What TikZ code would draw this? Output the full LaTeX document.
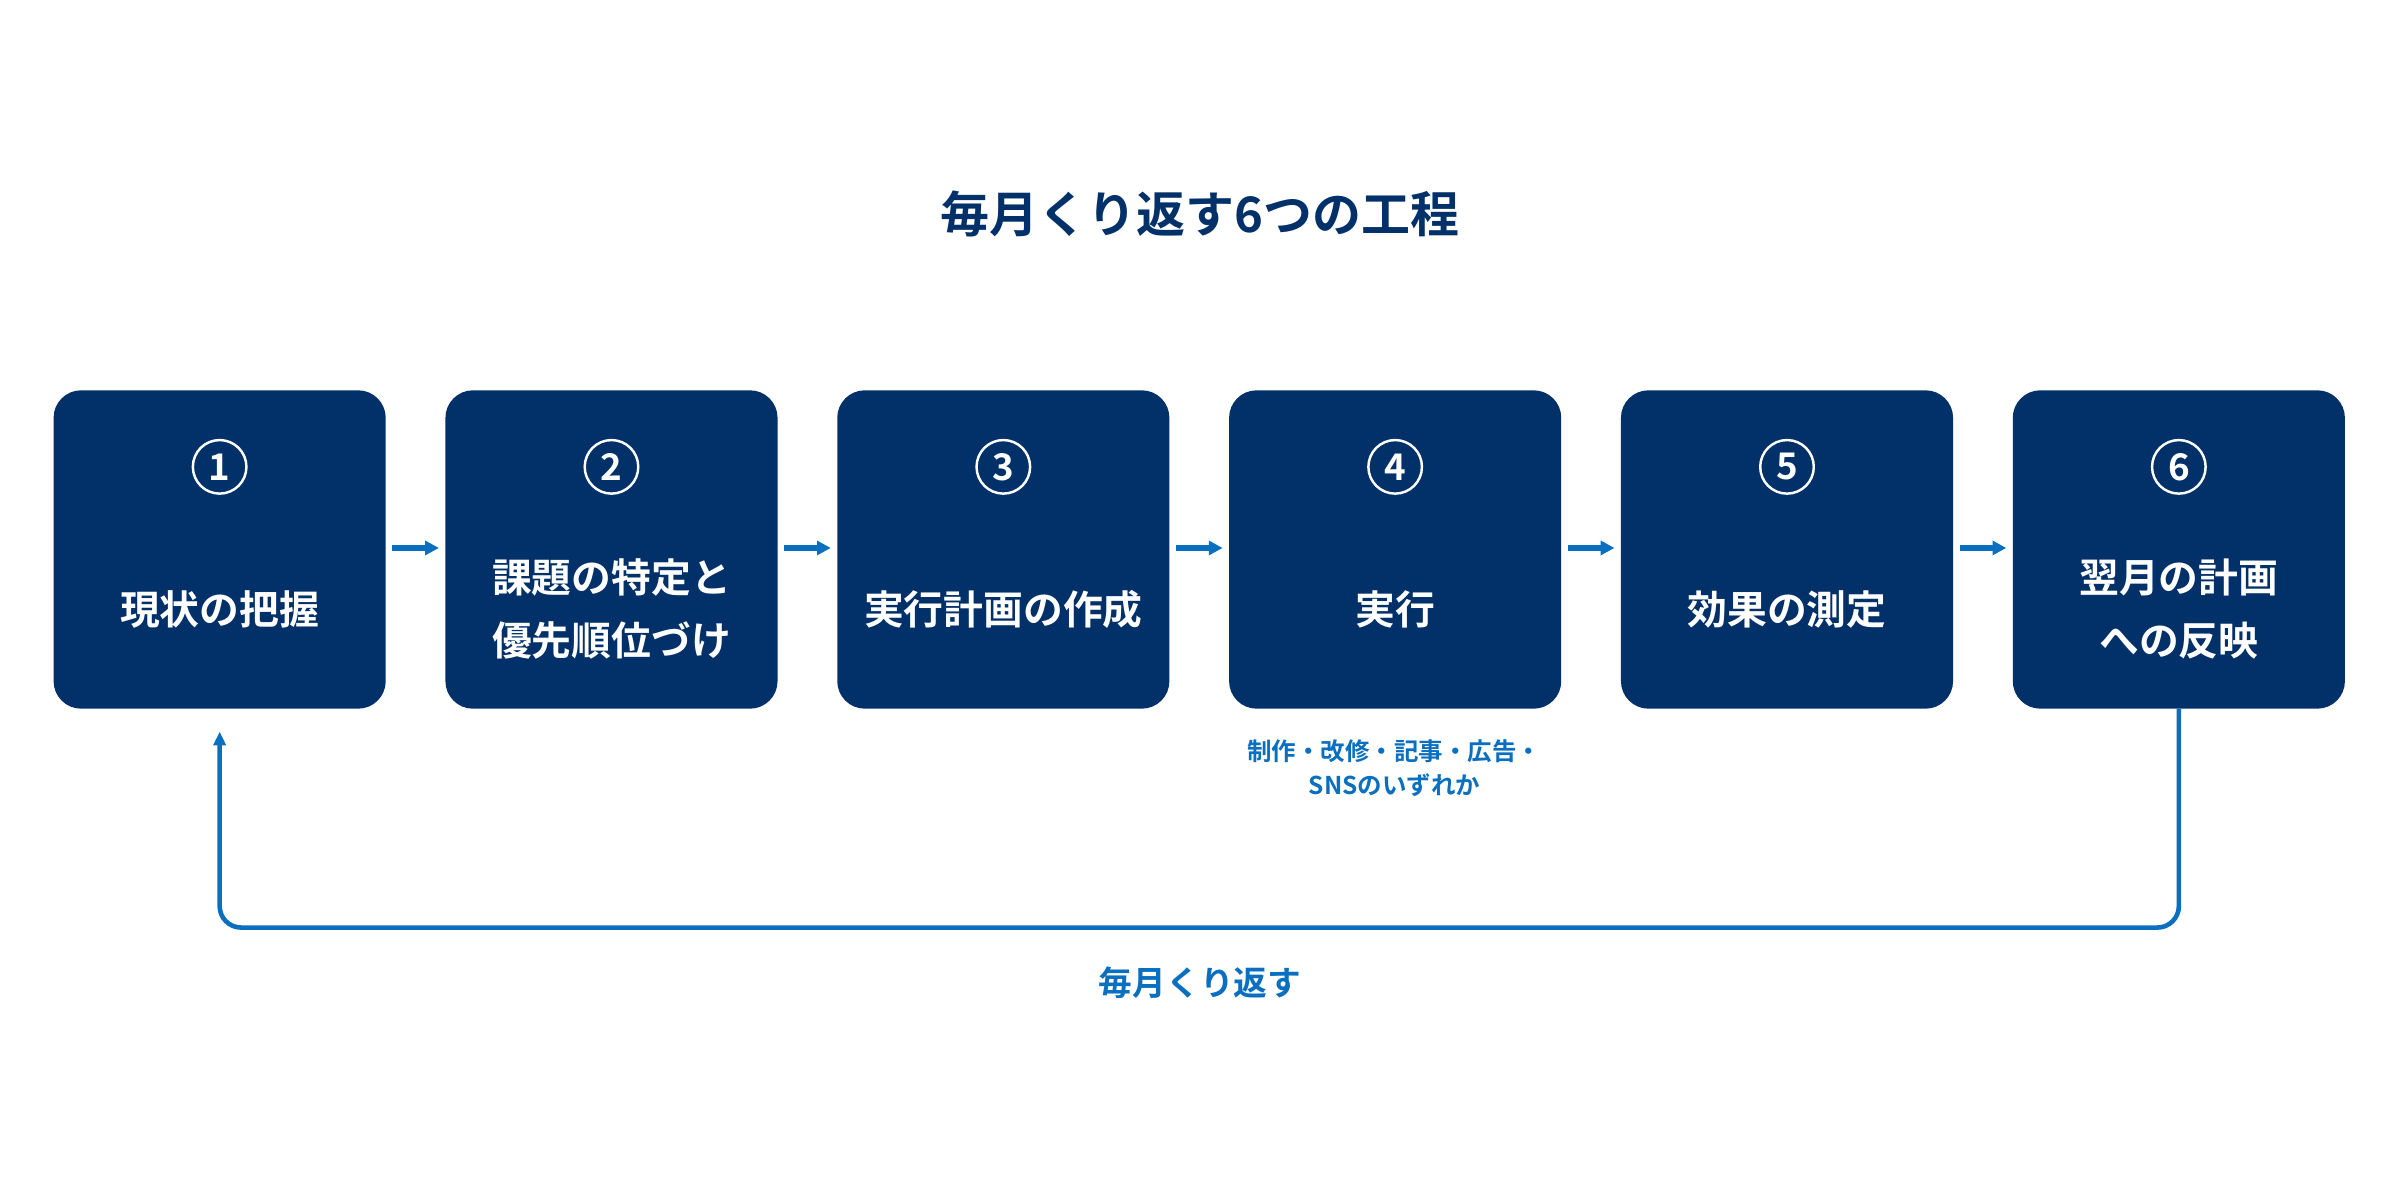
\documentclass[tikz,border=0pt]{standalone}
\usepackage{fontspec}
\setmainfont{Noto Sans CJK JP}[BoldFont={Noto Sans CJK JP Bold}]
\usetikzlibrary{arrows.meta}
\definecolor{navy}{HTML}{023069}
\definecolor{lblue}{HTML}{0B6FC0}
\begin{document}
\begin{tikzpicture}[x=1pt,y=-1pt,
 box/.style={fill=navy,rounded corners=18pt,minimum width=217pt,minimum height=208pt,draw=none},
 num/.style={circle,draw=white,line width=1.6pt,minimum size=35pt,inner sep=0,text=white,font=\fontsize{24}{24}\selectfont\bfseries},
 lab/.style={text=white,align=center,font=\fontsize{26}{41}\selectfont\bfseries},
 stparrow/.style={-{Triangle[length=9pt,width=9pt]},line width=4pt,draw=lblue},
 loop/.style={-{Triangle[length=9pt,width=8pt]},line width=3pt,draw=lblue,rounded corners=14pt}]
\useasboundingbox (0,0) rectangle (1568,784);
\node[font=\fontsize{32}{32}\selectfont\bfseries,text=navy] (title) at (784,140) {毎月くり返す6つの工程};
\foreach \i/\t in {1/現状の把握,2/{課題の特定と\\優先順位づけ},3/実行計画の作成,4/実行,5/効果の測定,6/{翌月の計画\\への反映}}{
 \pgfmathsetmacro\cx{143.5+256*(\i-1)}
 \node[box] (b\i) at (\cx,359) {};
 \node[num] (n\i) at (\cx,305) {\i};
 \node[lab] (l\i) at (\cx,398) {\t};
}
\foreach \i [evaluate=\i as \j using int(\i+1)] in {1,...,5}{
 \draw[stparrow] ([xshift=4pt]b\i.east |- 0,358) -- ([xshift=-4pt]b\j.west |- 0,358);
}
\node[text=lblue,align=center,font=\fontsize{16}{22}\selectfont\bfseries] (sub) at (911,502) {制作・改修・記事・広告・\\SNSのいずれか};
\coordinate (e) at (143.5,478);
\draw[loop] (b6.south) -- (1423.5,606) -- (143.5,606) -- (e);
\node[text=lblue,font=\fontsize{22}{22}\selectfont\bfseries] (rep) at (784,642) {毎月くり返す};
\end{tikzpicture}
\end{document}
